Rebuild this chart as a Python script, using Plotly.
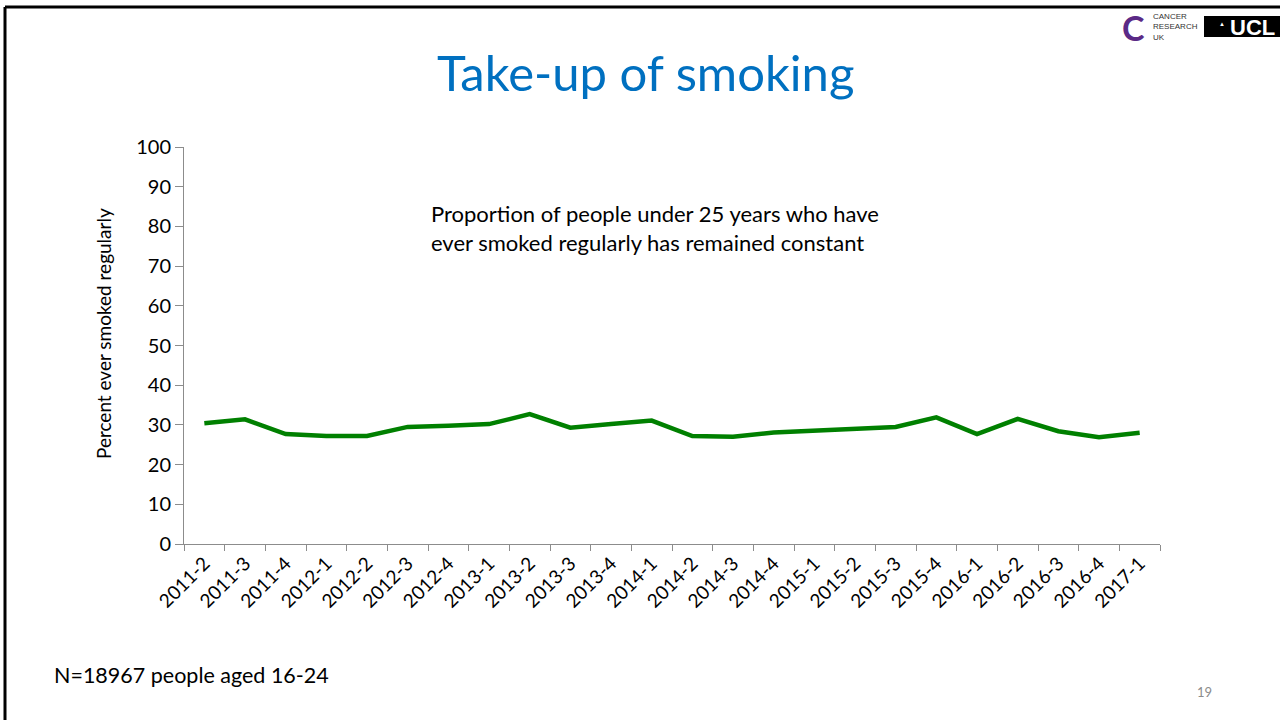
import plotly.graph_objects as go

# Survey waves (year-quarter) and share of 16-24 year olds who have ever smoked regularly
quarters = [
    "2011-2", "2011-3", "2011-4",
    "2012-1", "2012-2", "2012-3", "2012-4",
    "2013-1", "2013-2", "2013-3", "2013-4",
    "2014-1", "2014-2", "2014-3", "2014-4",
    "2015-1", "2015-2", "2015-3", "2015-4",
    "2016-1", "2016-2", "2016-3", "2016-4",
    "2017-1",
]
ever_smoked_pct = [
    30.4, 31.4, 27.7,
    27.2, 27.2, 29.5, 29.8,
    30.2, 32.7, 29.3, 30.2,
    31.1, 27.2, 27.0, 28.1,
    28.5, 29.0, 29.5, 31.9,
    27.7, 31.5, 28.4, 26.9,
    28.0,
]
y_ticks = [0, 10, 20, 30, 40, 50, 60, 70, 80, 90, 100]

W, H = 1280, 720
L, R, T, B = 184, 120, 147, 176
FONT = "Lato, Calibri, Arial, sans-serif"
AXIS_GREY = "#8c8c8c"


def px(x):
    return (x - L) / (W - L - R)


def py(y):
    return (H - B - y) / (H - T - B)


fig = go.Figure()
fig.add_trace(go.Scatter(
    x=quarters, y=ever_smoked_pct, mode="lines",
    line=dict(color="#008000", width=4.5),
    hoverinfo="x+y", showlegend=False,
))

fig.update_layout(
    width=W, height=H,
    margin=dict(l=L, r=R, t=T, b=B),
    paper_bgcolor="white", plot_bgcolor="white",
    font=dict(family=FONT, color="#000000"),
    xaxis=dict(
        type="category", tickangle=-45, tickson="boundaries",
        range=[-0.5, len(quarters) - 0.5],
        ticks="outside", ticklen=6, tickcolor=AXIS_GREY,
        showline=True, linecolor=AXIS_GREY, linewidth=1,
        showgrid=False, zeroline=False,
        tickfont=dict(size=19, family=FONT),
    ),
    yaxis=dict(
        range=[0, 100], tickvals=y_ticks,
        ticks="outside", ticklen=8, tickcolor=AXIS_GREY,
        showline=True, linecolor=AXIS_GREY, linewidth=1,
        showgrid=False, zeroline=False,
        tickfont=dict(size=20, family=FONT),
    ),
)

# Y-axis title, placed as rotated text
fig.add_annotation(text="Percent ever smoked regularly", xref="paper", yref="paper",
                   x=px(103), y=py(334), xanchor="center", yanchor="middle",
                   textangle=-90, showarrow=False, font=dict(size=19, family=FONT))

# Slide frame (top and left edges)
fig.add_shape(type="line", xref="paper", yref="paper",
              x0=px(5), x1=px(1285), y0=py(7), y1=py(7),
              line=dict(color="black", width=3))
fig.add_shape(type="line", xref="paper", yref="paper",
              x0=px(5), x1=px(5), y0=py(7), y1=py(725),
              line=dict(color="black", width=3))

# Title
fig.add_annotation(text="Take-up of smoking", xref="paper", yref="paper",
                   x=px(645), y=py(72), xanchor="center", yanchor="middle",
                   showarrow=False, font=dict(size=49, color="#0070C0", family=FONT))

# Commentary inside the chart
fig.add_annotation(text="Proportion of people under 25 years who have<br>ever smoked regularly has remained constant",
                   xref="paper", yref="paper", x=px(429), y=py(198),
                   xanchor="left", yanchor="top", align="left", showarrow=False,
                   font=dict(size=22, family=FONT))

# Sample size note and slide number
fig.add_annotation(text="N=18967 people aged 16-24", xref="paper", yref="paper",
                   x=px(52), y=py(675), xanchor="left", yanchor="middle",
                   showarrow=False, font=dict(size=21.5, family=FONT))
fig.add_annotation(text="19", xref="paper", yref="paper",
                   x=px(1204), y=py(692), xanchor="center", yanchor="middle",
                   showarrow=False, font=dict(size=13, color="#8c8c8c", family=FONT))

# Cancer Research UK mark
fig.add_annotation(text="<b>C</b>", xref="paper", yref="paper",
                   x=px(1133), y=py(28), xanchor="center", yanchor="middle",
                   showarrow=False, font=dict(size=34, color="#5b2a86", family=FONT))
fig.add_annotation(text="CANCER<br>RESEARCH<br>UK", xref="paper", yref="paper",
                   x=px(1151), y=py(27), xanchor="left", yanchor="middle", align="left",
                   showarrow=False, font=dict(size=8, color="#333333", family="Arial, sans-serif"))

# UCL block
fig.add_shape(type="rect", xref="paper", yref="paper",
              x0=px(1204), x1=px(1282), y0=py(16), y1=py(37),
              fillcolor="black", line=dict(width=0))
fig.add_annotation(text="<b>UCL</b>", xref="paper", yref="paper",
                   x=px(1252), y=py(27), xanchor="center", yanchor="middle",
                   showarrow=False, font=dict(size=22, color="white", family="Arial, sans-serif"))
fig.add_annotation(text="▲", xref="paper", yref="paper",
                   x=px(1222), y=py(24), xanchor="center", yanchor="middle",
                   showarrow=False, font=dict(size=6, color="white", family="Arial, sans-serif"))

fig.write_html("out.html")
